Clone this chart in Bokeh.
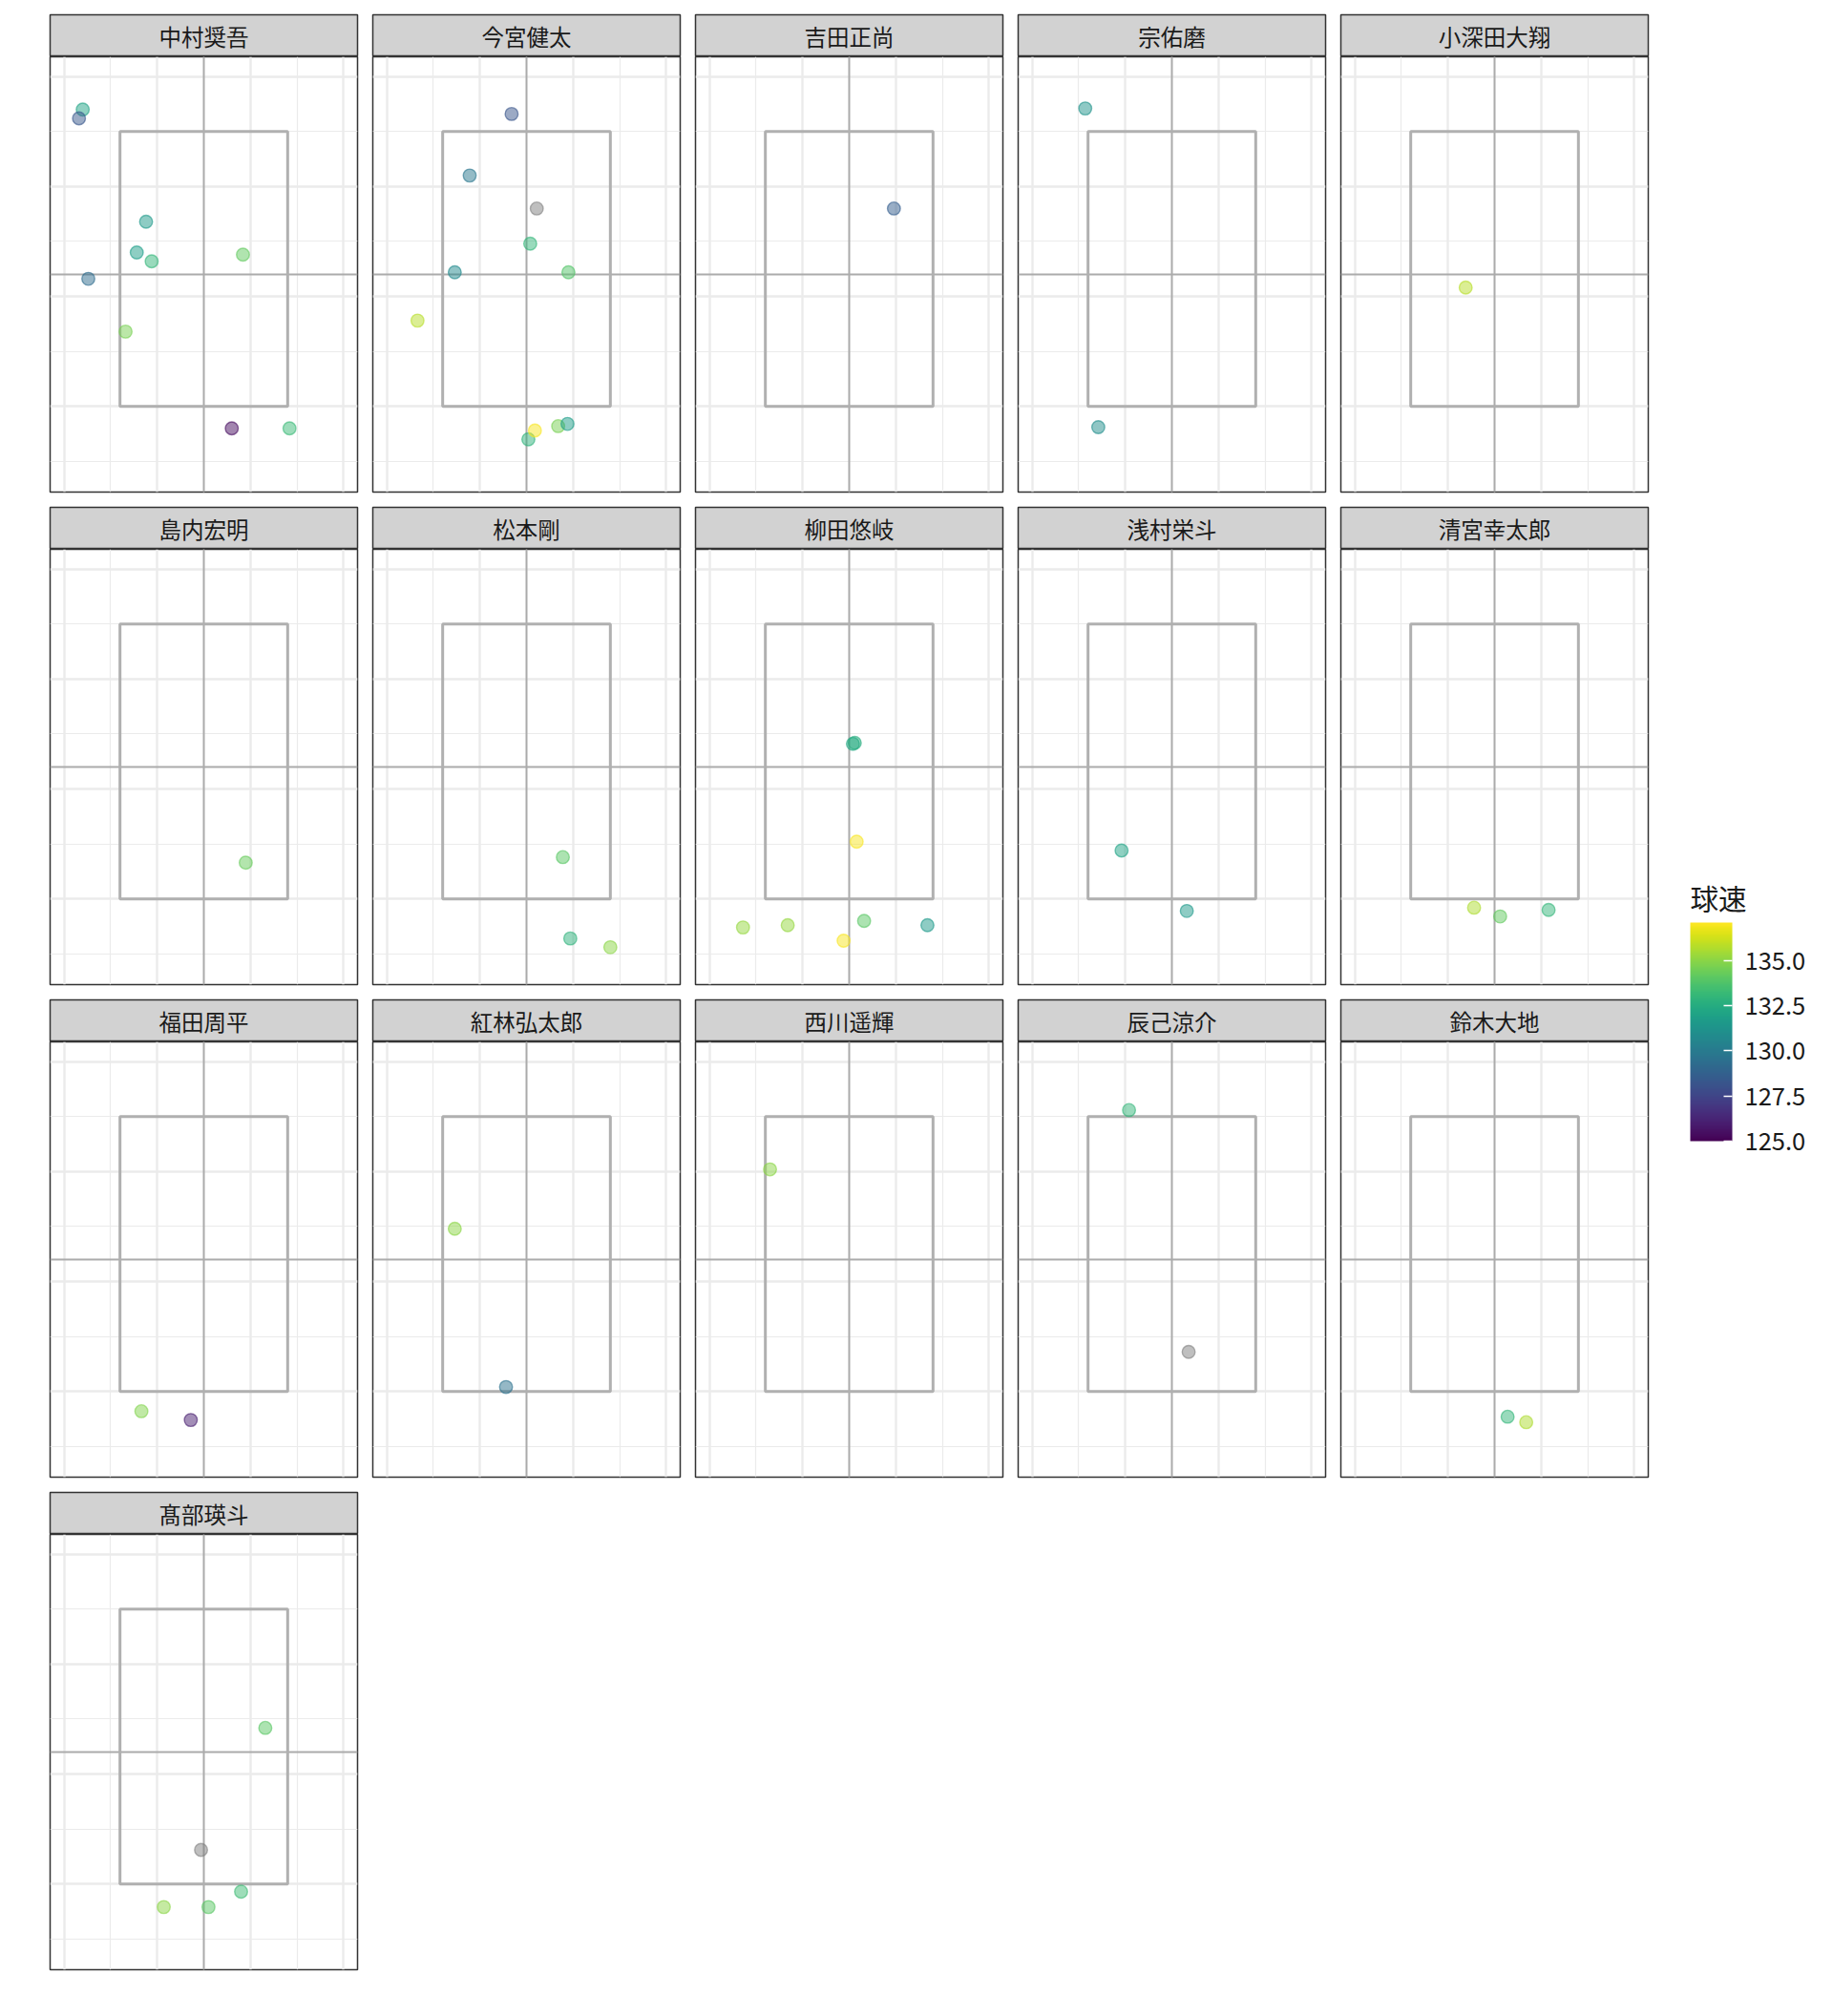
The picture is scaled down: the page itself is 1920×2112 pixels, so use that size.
import numpy as np
from bokeh.plotting import figure
from bokeh.models import (ColumnDataSource, Range1d, FixedTicker, Grid, LinearColorMapper,
                          ColorBar, Span, PrintfTickFormatter, Spacer, CDSView, GroupFilter)
from bokeh.layouts import row, column
from bokeh.palettes import Viridis256
from bokeh.core.properties import value
from bokeh.embed import file_html
from bokeh.resources import INLINE

nan = float("nan")

# ---- data -------------------------------------------------------------
batters = ["中村奨吾", "今宮健太", "吉田正尚", "宗佑磨", "小深田大翔",
           "島内宏明", "松本剛", "柳田悠岐", "浅村栄斗", "清宮幸太郎",
           "福田周平", "紅林弘太郎", "西川遥輝", "辰己涼介", "鈴木大地", "髙部瑛斗"]

pitch_batter = (["中村奨吾"] * 10 + ["今宮健太"] * 11 + ["吉田正尚"] + ["宗佑磨"] * 2 +
                ["小深田大翔"] + ["島内宏明"] + ["松本剛"] * 3 + ["柳田悠岐"] * 8 +
                ["浅村栄斗"] * 2 + ["清宮幸太郎"] * 3 + ["福田周平"] * 2 + ["紅林弘太郎"] * 2 +
                ["西川遥輝"] + ["辰己涼介"] * 2 + ["鈴木大地"] * 2 + ["髙部瑛斗"] * 5)

plate_x = [0.20, 0.16, 0.88, 0.78, 0.94, 1.92, 0.26, 0.66, 1.80, 2.42,
           1.34, 0.89, 1.61, 1.54, 0.73, 1.95, 0.33, 1.52, 1.59, 1.84, 1.94,
           1.98,
           0.57, 0.71,
           1.19,
           1.95,
           1.89, 1.97, 2.40,
           1.54, 1.56, 1.58, 0.36, 0.84, 1.66, 1.44, 2.34,
           0.96, 1.66,
           1.28, 1.56, 2.08,
           0.83, 1.36,
           0.73, 1.28,
           0.65,
           1.04, 1.68,
           1.64, 1.84,
           2.16, 1.47, 1.07, 1.55, 1.90]

plate_z = [3.70, 3.62, 2.68, 2.40, 2.32, 2.38, 2.16, 1.68, 0.80, 0.80,
           3.66, 3.10, 2.80, 2.48, 2.22, 2.22, 1.78, 0.70, 0.78, 0.82, 0.84,
           2.80,
           3.71, 0.81,
           2.08,
           1.33,
           1.38, 0.64, 0.56,
           2.41, 2.42, 1.52, 0.74, 0.76, 0.80, 0.62, 0.76,
           1.44, 0.89,
           0.92, 0.84, 0.90,
           0.82, 0.74,
           2.48, 1.04,
           3.02,
           3.56, 1.36,
           0.77, 0.72,
           2.42, 1.31, 0.79, 0.79, 0.93]

speed = [132.0, 128.3, 131.5, 131.8, 133.0, 134.2, 129.3, 134.6, 125.4, 133.2,
         128.2, 129.8, nan, 133.0, 130.8, 133.8, 135.8, 132.8, 137.0, 134.6, 131.8,
         128.6,
         131.2, 131.0,
         135.8,
         134.3,
         134.0, 132.8, 135.0,
         132.3, 132.6, 137.0, 135.2, 135.2, 134.0, 137.0, 131.5,
         132.0, 131.5,
         135.6, 134.2, 133.0,
         134.8, 126.0,
         135.0, 129.5,
         135.0,
         133.0, nan,
         133.0, 135.6,
         134.0, nan, 135.0, 134.0, 133.3]

# strike zone and reference lines
zone_left, zone_right = [0.6], [2.4]
zone_bottom, zone_top = [1.0], [3.5]
center_x = 1.5
mid_z = 2.2

x_limits = (-0.15, 3.15)
z_limits = (0.22, 4.18)
x_major, x_minor = [0, 1, 2, 3], [0.5, 1.5, 2.5]
z_major, z_minor = [1, 2, 3, 4], [0.5, 1.5, 2.5, 3.5]

speed_low, speed_high = 125.0, 137.1
legend_ticks = [125.0, 127.5, 130.0, 132.5, 135.0]
legend_title = "球速"

# ---- styling ----------------------------------------------------------
FONT = "Noto Sans CJK JP"
GRID = "#EBEBEB"
BORDER = "#333333"

mapper = LinearColorMapper(palette=Viridis256, low=speed_low, high=speed_high, nan_color="#808080")
src = ColumnDataSource(dict(batter=pitch_batter, x=plate_x, z=plate_z,
                            speed=np.array(speed, dtype=float)))


def make_facet(name):
    strip = figure(width=338, height=51, x_range=Range1d(0, 1), y_range=Range1d(0, 1),
                   x_axis_location=None, y_axis_location=None, toolbar_location=None,
                   output_backend="svg", min_border_left=8, min_border_right=8,
                   min_border_top=7, min_border_bottom=0,
                   background_fill_color="#D2D2D2", border_fill_color="white",
                   outline_line_color=BORDER, outline_line_width=1.5)
    strip.center = []
    strip.text(x=[0.5], y=[0.5], text=[name], text_align="center", text_baseline="middle",
               text_font=value(FONT), text_font_size="23.5px", text_color="#1A1A1A")

    p = figure(width=338, height=465, x_range=Range1d(*x_limits), y_range=Range1d(*z_limits),
               x_axis_location=None, y_axis_location=None, toolbar_location=None,
               output_backend="svg", min_border_left=8, min_border_right=8,
               min_border_top=0, min_border_bottom=9,
               background_fill_color="white", border_fill_color="white",
               outline_line_color=BORDER, outline_line_width=1.5)
    p.center = []
    p.add_layout(Grid(dimension=0, ticker=FixedTicker(ticks=x_major, minor_ticks=x_minor),
                      grid_line_color=GRID, grid_line_width=2.4,
                      minor_grid_line_color=GRID, minor_grid_line_width=1.2))
    p.add_layout(Grid(dimension=1, ticker=FixedTicker(ticks=z_major, minor_ticks=z_minor),
                      grid_line_color=GRID, grid_line_width=2.4,
                      minor_grid_line_color=GRID, minor_grid_line_width=1.2))
    p.add_layout(Span(location=center_x, dimension="height", line_color="#ABABAB",
                      line_width=2, level="underlay"))
    p.add_layout(Span(location=mid_z, dimension="width", line_color="#ABABAB",
                      line_width=2, level="underlay"))
    p.quad(left=zone_left, right=zone_right, bottom=zone_bottom, top=zone_top,
           fill_color=None, line_color="#B0B0B0", line_width=3)
    p.scatter("x", "z", source=src, view=CDSView(filter=GroupFilter(column_name="batter", group=name)),
              size=13.5, fill_color={"field": "speed", "transform": mapper},
              line_color={"field": "speed", "transform": mapper},
              fill_alpha=0.5, line_alpha=0.6, line_width=1.4)
    return column(strip, p)


facets = [make_facet(b) for b in batters]
rows = [row(*facets[i:i + 5]) for i in range(0, len(facets), 5)]
grid = column(Spacer(width=10, height=8), *rows)

cb = ColorBar(color_mapper=mapper, location="top_left", orientation="vertical",
              width=44, height=229,
              ticker=FixedTicker(ticks=legend_ticks), formatter=PrintfTickFormatter(format="%.1f"),
              major_label_text_font=FONT, major_label_text_font_size="25.5px",
              major_label_text_color="#1A1A1A", label_standoff=13,
              major_tick_line_color="white", major_tick_in=9, major_tick_line_width=1.5,
              minor_tick_line_color=None,
              padding=0, margin=0, background_fill_alpha=0, border_line_color=None,
              bar_line_color=None)

leg = figure(width=180, height=2064, x_axis_location=None, y_axis_location=None,
             toolbar_location=None, output_backend="svg", title=legend_title,
             min_border_left=36, min_border_top=966, min_border_right=0, min_border_bottom=0,
             outline_line_color=None, background_fill_color="white", border_fill_color="white")
leg.title.text_font = FONT
leg.title.text_font_size = "29.5px"
leg.title.text_font_style = "normal"
leg.title.text_color = "#1A1A1A"
leg.title.align = "left"
leg.title.standoff = 11
leg.center = []
leg.add_layout(cb, "center")

layout = row(Spacer(width=44, height=10), grid, leg)

open("out.html", "w").write(file_html(layout, INLINE))
